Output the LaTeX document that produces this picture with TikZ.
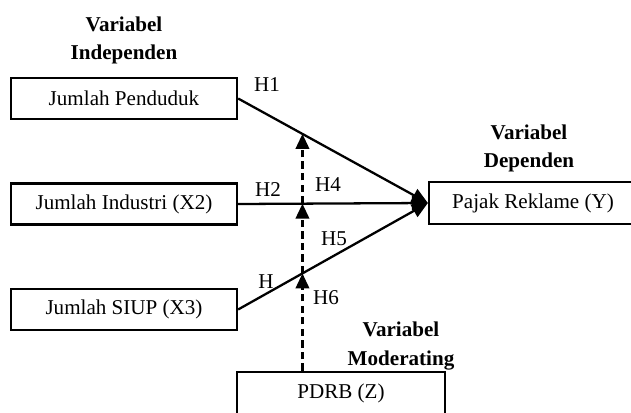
\documentclass[tikz,border=0pt]{standalone}
\usepackage{fontspec}
\setmainfont{Liberation Serif}
\usepackage{tikz}
\usetikzlibrary{arrows.meta,positioning,calc}

\begin{document}
\begin{tikzpicture}[x=0.02cm, y=-0.02cm, line width=1.3pt,
  box/.style={draw, rectangle, minimum width=4.52cm, minimum height=0.82cm, font=\fontsize{12}{14}\selectfont},
  zbox/.style={box, minimum width=4.16cm, minimum height=0.84cm},
  head/.style={align=center, font=\fontsize{12}{16}\selectfont\bfseries},
  hyp/.style={font=\fontsize{12}{14}\selectfont, inner sep=0pt},
  effect/.style={-{Triangle[length=0.32cm, width=0.28cm]}},
  moder/.style={-{Triangle[length=0.3cm, width=0.27cm]}, dash pattern=on 4.2pt off 2.4pt}]
\useasboundingbox (0,0) rectangle (631,412);
% variables
\node[box] (X1) at (124,98.5) {Jumlah Penduduk};
\node[box] (X2) at (124,204) {Jumlah Industri (X2)};
\node[box] (X3) at (124,309.5) {Jumlah SIUP (X3)};
\node[zbox] (Y) at (533,203) {Pajak Reklame (Y)};
\node[zbox] (Z) at (341,393) {PDRB (Z)};
% headings
\node[head] (hX) at (124,40) {Variabel\\Independen};
\node[head] (hY) at (529,148) {Variabel\\Dependen};
\node[head] (hZ) at (401,346) {Variabel\\Moderating};
% direct effects
\draw[effect] (X1.east) -- coordinate[pos=0.339] (m1) (Y.west);
\draw[effect] (X2.east) -- coordinate[pos=0.339] (m2) (Y.west);
\draw[effect] (X3.east) -- coordinate[pos=0.339] (m3) (Y.west);
% moderation
\coordinate (m0) at (Z.north -| m1);
\draw[moder] (m0) -- (m3);
\draw[moder] (m3) -- (m2);
\draw[moder] (m2) -- (m1);
% hypotheses
\node[hyp] (H1) at (267,85) {H1};
\node[hyp] (H2) at (268,190) {H2};
\node[hyp] (H3) at (266,282) {H};
\node[hyp] (H4) at (328,185) {H4};
\node[hyp] (H5) at (334,238.5) {H5};
\node[hyp] (H6) at (326,297.5) {H6};
\end{tikzpicture}
\end{document}
